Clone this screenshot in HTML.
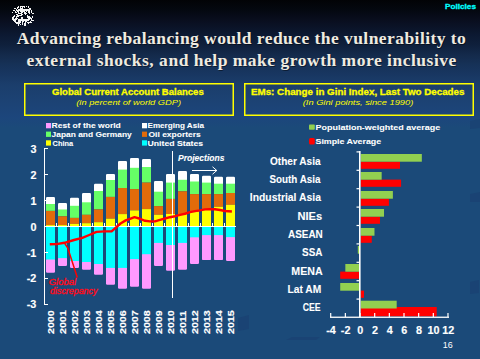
<!DOCTYPE html>
<html><head><meta charset="utf-8"><style>
html,body{margin:0;padding:0}
body{width:480px;height:359px;overflow:hidden;position:relative;
background:linear-gradient(to bottom,rgb(2,3,6) 0px,rgb(4,8,16) 10px,rgb(9,14,30) 20px,rgb(12,25,50) 35px,rgb(15,32,60) 45px,rgb(20,42,75) 55px,rgb(22,50,88) 65px,rgb(24,55,98) 75px,rgb(27,62,108) 85px,rgb(28,66,115) 100px,rgb(28,70,124) 118px,rgb(27,74,121) 128px,rgb(27,74,121) 359px);
font-family:"Liberation Sans",sans-serif}
svg text{font-family:"Liberation Sans",sans-serif}
svg text.ser{font-family:"Liberation Serif",serif;font-size:17.5px;font-weight:bold}
</style></head><body>
<svg width="480" height="359" style="position:absolute;left:0;top:0">
<g fill="#f4f4f4" shape-rendering="crispEdges"><rect x="18" y="6" width="1" height="1"/><rect x="20" y="6" width="5" height="1"/><rect x="26" y="6" width="1" height="1"/><rect x="28" y="6" width="1" height="1"/><rect x="17" y="7" width="2" height="1"/><rect x="20" y="7" width="1" height="1"/><rect x="22" y="7" width="1" height="1"/><rect x="24" y="7" width="1" height="1"/><rect x="28" y="7" width="1" height="1"/><rect x="14" y="8" width="2" height="1"/><rect x="17" y="8" width="1" height="1"/><rect x="20" y="8" width="3" height="1"/><rect x="29" y="8" width="2" height="1"/><rect x="16" y="9" width="1" height="1"/><rect x="18" y="9" width="13" height="1"/><rect x="13" y="10" width="2" height="1"/><rect x="16" y="10" width="14" height="1"/><rect x="31" y="10" width="1" height="1"/><rect x="15" y="11" width="1" height="1"/><rect x="17" y="11" width="2" height="1"/><rect x="20" y="11" width="5" height="1"/><rect x="26" y="11" width="1" height="1"/><rect x="28" y="11" width="2" height="1"/><rect x="31" y="11" width="1" height="1"/><rect x="12" y="12" width="1" height="1"/><rect x="15" y="12" width="2" height="1"/><rect x="18" y="12" width="1" height="1"/><rect x="21" y="12" width="2" height="1"/><rect x="24" y="12" width="2" height="1"/><rect x="28" y="12" width="2" height="1"/><rect x="31" y="12" width="1" height="1"/><rect x="18" y="13" width="4" height="1"/><rect x="24" y="13" width="3" height="1"/><rect x="29" y="13" width="1" height="1"/><rect x="32" y="13" width="2" height="1"/><rect x="16" y="14" width="2" height="1"/><rect x="21" y="14" width="2" height="1"/><rect x="25" y="14" width="1" height="1"/><rect x="14" y="15" width="1" height="1"/><rect x="17" y="15" width="5" height="1"/><rect x="27" y="15" width="1" height="1"/><rect x="13" y="16" width="2" height="1"/><rect x="16" y="16" width="3" height="1"/><rect x="27" y="16" width="3" height="1"/><rect x="32" y="16" width="1" height="1"/><rect x="12" y="17" width="2" height="1"/><rect x="16" y="17" width="1" height="1"/><rect x="21" y="17" width="2" height="1"/><rect x="27" y="17" width="4" height="1"/><rect x="32" y="17" width="1" height="1"/><rect x="12" y="18" width="2" height="1"/><rect x="15" y="18" width="3" height="1"/><rect x="21" y="18" width="2" height="1"/><rect x="28" y="18" width="4" height="1"/><rect x="12" y="19" width="5" height="1"/><rect x="18" y="19" width="12" height="1"/><rect x="31" y="19" width="1" height="1"/><rect x="13" y="20" width="3" height="1"/><rect x="18" y="20" width="11" height="1"/><rect x="31" y="20" width="3" height="1"/><rect x="14" y="21" width="2" height="1"/><rect x="18" y="21" width="3" height="1"/><rect x="22" y="21" width="2" height="1"/><rect x="25" y="21" width="2" height="1"/><rect x="30" y="21" width="1" height="1"/><rect x="15" y="22" width="6" height="1"/><rect x="22" y="22" width="1" height="1"/><rect x="25" y="22" width="1" height="1"/><rect x="27" y="22" width="5" height="1"/><rect x="16" y="23" width="4" height="1"/><rect x="22" y="23" width="1" height="1"/><rect x="24" y="23" width="2" height="1"/><rect x="28" y="23" width="1" height="1"/><rect x="18" y="24" width="1" height="1"/><rect x="20" y="24" width="1" height="1"/><rect x="22" y="24" width="1" height="1"/><rect x="24" y="24" width="2" height="1"/><rect x="18" y="25" width="1" height="1"/><rect x="24" y="25" width="2" height="1"/></g>
<text transform="translate(445,8.9) scale(1.0646,1)" style="font-size:7.7px;font-weight:bold;font-style:normal" fill="#00ffff" stroke="#00ffff" stroke-width="0.3">Policies</text>
<g style="font-family:'Liberation Serif',serif;font-size:17.5px;font-weight:bold">
<text x="17.7" y="44.7" class="ser" style="letter-spacing:0.44px" fill="#000" fill-opacity="0.45">Advancing rebalancing would reduce the vulnerability to</text>
<text x="27.4" y="66.5" class="ser" style="letter-spacing:0.51px" fill="#000" fill-opacity="0.45">external shocks, and help make growth more inclusive</text>
<text x="16.8" y="43.8" class="ser" style="letter-spacing:0.44px" fill="#efebe0">Advancing rebalancing would reduce the vulnerability to</text>
<text x="26.5" y="65.6" class="ser" style="letter-spacing:0.51px" fill="#efebe0">external shocks, and help make growth more inclusive</text>
</g>

<rect x="24.75" y="83.75" width="208.5" height="31.5" fill="none" stroke="#ffff00" stroke-width="1.5"/>
<rect x="244.75" y="83.75" width="228.5" height="31.5" fill="none" stroke="#ffff00" stroke-width="1.5"/>
<text transform="translate(52,94.5) scale(1.0493,1)" style="font-size:9.1px;font-weight:bold;font-style:normal" fill="#ffff00" stroke="#ffff00" stroke-width="0.3">Global Current Account Balances</text>
<text transform="translate(76.25,105.25) scale(1.1545,1)" style="font-size:8.05px;font-weight:normal;font-style:italic" fill="#ffff00">(in percent of world GDP)</text>
<text transform="translate(251,94.75) scale(1.0774,1)" style="font-size:9.1px;font-weight:bold;font-style:normal" fill="#ffff00" stroke="#ffff00" stroke-width="0.3">EMs: Change in Gini Index, Last Two Decades</text>
<text transform="translate(302.7,105.25) scale(1.1575,1)" style="font-size:8.05px;font-weight:normal;font-style:italic" fill="#ffff00">(In Gini points, since 1990)</text>
<g fill="rgb(26,67,116)">
<polygon points="470,121 480,119 480,128 470,129"/>
<polygon points="470,194 480,192 480,202 470,202"/>
<polygon points="470,282 479,280 479,293 470,294"/>
<polygon points="238,318 249,315 249,329 238,331"/>
<polygon points="286,340 292,337 320,337 316,340"/>
</g>
<rect x="46" y="197" width="9" height="9" fill="#ffffff" rx="1.2"/>
<rect x="46" y="204" width="9" height="6.900000000000006" fill="#66ff66"/>
<rect x="46" y="210.9" width="9" height="14.199999999999989" fill="#e26b0a"/>
<rect x="46" y="225.1" width="9" height="0.9000000000000057" fill="#ffff00"/>
<rect x="58" y="203" width="9" height="8.5" fill="#ffffff" rx="1.2"/>
<rect x="58" y="209.5" width="9" height="6.800000000000011" fill="#66ff66"/>
<rect x="58" y="216.3" width="9" height="8.799999999999983" fill="#e26b0a"/>
<rect x="58" y="225.1" width="9" height="0.9000000000000057" fill="#ffff00"/>
<rect x="70" y="197.8" width="9" height="10.0" fill="#ffffff" rx="1.2"/>
<rect x="70" y="205.8" width="9" height="12.099999999999994" fill="#66ff66"/>
<rect x="70" y="217.9" width="9" height="6.0" fill="#e26b0a"/>
<rect x="70" y="223.9" width="9" height="2.0999999999999943" fill="#ffff00"/>
<rect x="82" y="193" width="9" height="11.300000000000011" fill="#ffffff" rx="1.2"/>
<rect x="82" y="202.3" width="9" height="12.5" fill="#66ff66"/>
<rect x="82" y="214.8" width="9" height="8.399999999999977" fill="#e26b0a"/>
<rect x="82" y="223.2" width="9" height="2.8000000000000114" fill="#ffff00"/>
<rect x="94" y="183.8" width="9" height="9.199999999999989" fill="#ffffff" rx="1.2"/>
<rect x="94" y="191" width="9" height="18.400000000000006" fill="#66ff66"/>
<rect x="94" y="209.4" width="9" height="12.799999999999983" fill="#e26b0a"/>
<rect x="94" y="222.2" width="9" height="3.8000000000000114" fill="#ffff00"/>
<rect x="106" y="173.9" width="9" height="8.099999999999994" fill="#ffffff" rx="1.2"/>
<rect x="106" y="180" width="9" height="16.900000000000006" fill="#66ff66"/>
<rect x="106" y="196.9" width="9" height="21.799999999999983" fill="#e26b0a"/>
<rect x="106" y="218.7" width="9" height="7.300000000000011" fill="#ffff00"/>
<rect x="118" y="160.9" width="9" height="10.699999999999989" fill="#ffffff" rx="1.2"/>
<rect x="118" y="169.6" width="9" height="18.400000000000006" fill="#66ff66"/>
<rect x="118" y="188" width="9" height="26.099999999999994" fill="#e26b0a"/>
<rect x="118" y="214.1" width="9" height="11.900000000000006" fill="#ffff00"/>
<rect x="130" y="158" width="9" height="11.800000000000011" fill="#ffffff" rx="1.2"/>
<rect x="130" y="167.8" width="9" height="21.299999999999983" fill="#66ff66"/>
<rect x="130" y="189.1" width="9" height="21.30000000000001" fill="#e26b0a"/>
<rect x="130" y="210.4" width="9" height="15.599999999999994" fill="#ffff00"/>
<rect x="142" y="159.1" width="9" height="9.900000000000006" fill="#ffffff" rx="1.2"/>
<rect x="142" y="167" width="9" height="15.599999999999994" fill="#66ff66"/>
<rect x="142" y="182.6" width="9" height="26.5" fill="#e26b0a"/>
<rect x="142" y="209.1" width="9" height="16.900000000000006" fill="#ffff00"/>
<rect x="154" y="181.1" width="9" height="12.599999999999994" fill="#ffffff" rx="1.2"/>
<rect x="154" y="191.7" width="9" height="14.400000000000006" fill="#66ff66"/>
<rect x="154" y="206.1" width="9" height="8.700000000000017" fill="#e26b0a"/>
<rect x="154" y="214.8" width="9" height="11.199999999999989" fill="#ffff00"/>
<rect x="166" y="173.9" width="9" height="10.699999999999989" fill="#ffffff" rx="1.2"/>
<rect x="166" y="182.6" width="9" height="16.30000000000001" fill="#66ff66"/>
<rect x="166" y="198.9" width="9" height="15.099999999999994" fill="#e26b0a"/>
<rect x="166" y="214" width="9" height="12" fill="#ffff00"/>
<rect x="178" y="171.1" width="9" height="10.700000000000017" fill="#ffffff" rx="1.2"/>
<rect x="178" y="179.8" width="9" height="11.5" fill="#66ff66"/>
<rect x="178" y="191.3" width="9" height="22.69999999999999" fill="#e26b0a"/>
<rect x="178" y="214" width="9" height="12" fill="#ffff00"/>
<rect x="190" y="173.9" width="9" height="9.599999999999994" fill="#ffffff" rx="1.2"/>
<rect x="190" y="181.5" width="9" height="12.599999999999994" fill="#66ff66"/>
<rect x="190" y="194.1" width="9" height="17.400000000000006" fill="#e26b0a"/>
<rect x="190" y="211.5" width="9" height="14.5" fill="#ffff00"/>
<rect x="202" y="175.7" width="9" height="8.900000000000006" fill="#ffffff" rx="1.2"/>
<rect x="202" y="182.6" width="9" height="11.5" fill="#66ff66"/>
<rect x="202" y="194.1" width="9" height="15.400000000000006" fill="#e26b0a"/>
<rect x="202" y="209.5" width="9" height="16.5" fill="#ffff00"/>
<rect x="214" y="176.7" width="9" height="9.0" fill="#ffffff" rx="1.2"/>
<rect x="214" y="183.7" width="9" height="10.400000000000006" fill="#66ff66"/>
<rect x="214" y="194.1" width="9" height="12.700000000000017" fill="#e26b0a"/>
<rect x="214" y="206.8" width="9" height="19.19999999999999" fill="#ffff00"/>
<rect x="226" y="176.7" width="9" height="9.0" fill="#ffffff" rx="1.2"/>
<rect x="226" y="183.7" width="9" height="9.300000000000011" fill="#66ff66"/>
<rect x="226" y="193" width="9" height="11.800000000000011" fill="#e26b0a"/>
<rect x="226" y="204.8" width="9" height="21.19999999999999" fill="#ffff00"/>
<rect x="46" y="258.5" width="9" height="14.199999999999989" fill="#ff99ff" rx="1.2"/>
<rect x="46" y="227" width="9" height="32.5" fill="#00ffff"/>
<rect x="58" y="257.1" width="9" height="8.799999999999955" fill="#ff99ff" rx="1.2"/>
<rect x="58" y="227" width="9" height="31.100000000000023" fill="#00ffff"/>
<rect x="70" y="260" width="9" height="7.899999999999977" fill="#ff99ff" rx="1.2"/>
<rect x="70" y="227" width="9" height="34" fill="#00ffff"/>
<rect x="82" y="261" width="9" height="8.800000000000011" fill="#ff99ff" rx="1.2"/>
<rect x="82" y="227" width="9" height="35" fill="#00ffff"/>
<rect x="94" y="263" width="9" height="11.699999999999989" fill="#ff99ff" rx="1.2"/>
<rect x="94" y="227" width="9" height="37" fill="#00ffff"/>
<rect x="106" y="266.9" width="9" height="17.900000000000034" fill="#ff99ff" rx="1.2"/>
<rect x="106" y="227" width="9" height="40.89999999999998" fill="#00ffff"/>
<rect x="118" y="266.9" width="9" height="21.80000000000001" fill="#ff99ff" rx="1.2"/>
<rect x="118" y="227" width="9" height="40.89999999999998" fill="#00ffff"/>
<rect x="130" y="258.1" width="9" height="28.69999999999999" fill="#ff99ff" rx="1.2"/>
<rect x="130" y="227" width="9" height="32.10000000000002" fill="#00ffff"/>
<rect x="142" y="253.2" width="9" height="35.5" fill="#ff99ff" rx="1.2"/>
<rect x="142" y="227" width="9" height="27.19999999999999" fill="#00ffff"/>
<rect x="154" y="241.9" width="9" height="23.99999999999997" fill="#ff99ff" rx="1.2"/>
<rect x="154" y="227" width="9" height="15.900000000000006" fill="#00ffff"/>
<rect x="166" y="244" width="9" height="26.80000000000001" fill="#ff99ff" rx="1.2"/>
<rect x="166" y="227" width="9" height="18" fill="#00ffff"/>
<rect x="178" y="241.9" width="9" height="27.900000000000006" fill="#ff99ff" rx="1.2"/>
<rect x="178" y="227" width="9" height="15.900000000000006" fill="#00ffff"/>
<rect x="190" y="236.3" width="9" height="27.69999999999999" fill="#ff99ff" rx="1.2"/>
<rect x="190" y="227" width="9" height="10.300000000000011" fill="#00ffff"/>
<rect x="202" y="234.1" width="9" height="26.00000000000003" fill="#ff99ff" rx="1.2"/>
<rect x="202" y="227" width="9" height="8.099999999999994" fill="#00ffff"/>
<rect x="214" y="234.1" width="9" height="26.00000000000003" fill="#ff99ff" rx="1.2"/>
<rect x="214" y="227" width="9" height="8.099999999999994" fill="#00ffff"/>
<rect x="226" y="236.1" width="9" height="24.900000000000006" fill="#ff99ff" rx="1.2"/>
<rect x="226" y="227" width="9" height="10.099999999999994" fill="#00ffff"/>
<rect x="44" y="226" width="192" height="1" fill="#fff"/>
<rect x="56" y="223" width="1" height="3" fill="#fff"/>
<rect x="68" y="223" width="1" height="3" fill="#fff"/>
<rect x="80" y="223" width="1" height="3" fill="#fff"/>
<rect x="92" y="223" width="1" height="3" fill="#fff"/>
<rect x="104" y="223" width="1" height="3" fill="#fff"/>
<rect x="116" y="223" width="1" height="3" fill="#fff"/>
<rect x="128" y="223" width="1" height="3" fill="#fff"/>
<rect x="140" y="223" width="1" height="3" fill="#fff"/>
<rect x="152" y="223" width="1" height="3" fill="#fff"/>
<rect x="164" y="223" width="1" height="3" fill="#fff"/>
<rect x="176" y="223" width="1" height="3" fill="#fff"/>
<rect x="188" y="223" width="1" height="3" fill="#fff"/>
<rect x="200" y="223" width="1" height="3" fill="#fff"/>
<rect x="212" y="223" width="1" height="3" fill="#fff"/>
<rect x="224" y="223" width="1" height="3" fill="#fff"/>
<rect x="44" y="148" width="1" height="157" fill="#fff"/>
<rect x="44" y="304" width="4" height="1" fill="#fff"/>
<rect x="44" y="278" width="4" height="1" fill="#fff"/>
<rect x="44" y="252" width="4" height="1" fill="#fff"/>
<rect x="44" y="200" width="4" height="1" fill="#fff"/>
<rect x="44" y="174" width="4" height="1" fill="#fff"/>
<rect x="44" y="148" width="4" height="1" fill="#fff"/>
<text transform="translate(26.70,308.20) scale(1.07,1)" style="font-size:10.1px;font-weight:bold" fill="#fff" stroke="#fff" stroke-width="0.15">-3</text>
<text transform="translate(26.70,282.40) scale(1.07,1)" style="font-size:10.1px;font-weight:bold" fill="#fff" stroke="#fff" stroke-width="0.15">-2</text>
<text transform="translate(26.70,256.60) scale(1.07,1)" style="font-size:10.1px;font-weight:bold" fill="#fff" stroke="#fff" stroke-width="0.15">-1</text>
<text transform="translate(30.50,230.80) scale(1.07,1)" style="font-size:10.1px;font-weight:bold" fill="#fff" stroke="#fff" stroke-width="0.15">0</text>
<text transform="translate(30.50,205.00) scale(1.07,1)" style="font-size:10.1px;font-weight:bold" fill="#fff" stroke="#fff" stroke-width="0.15">1</text>
<text transform="translate(30.50,179.20) scale(1.07,1)" style="font-size:10.1px;font-weight:bold" fill="#fff" stroke="#fff" stroke-width="0.15">2</text>
<text transform="translate(30.50,153.40) scale(1.07,1)" style="font-size:10.1px;font-weight:bold" fill="#fff" stroke="#fff" stroke-width="0.15">3</text>
<rect x="172" y="151" width="1" height="147" fill="#fff"/>
<polyline points="49.8,244.3 56.5,244.1 64.5,242.8 74,240 82.3,237.8 89.2,235 96.5,231.9 104.8,231.4 111.6,231.4 115.25,228.2 120.5,223.5 125.7,220.4 130,218.8 134.5,217.2 140,218.75 145,220.8 150,221.4 155,221.4 160,219.8 165,218.5 170,217.2 175,216.2 180,214.8 185,213.75 190,212.2 195,211.1 200,210.4 205,209.4 210,209.2 215,209.3 220,210 225,211 231.9,211.5" fill="none" stroke="#ff0000" stroke-width="2.4" stroke-linejoin="round"/>
<polyline points="64.5,243 67.8,248 77.3,277.6" fill="none" stroke="#ff0000" stroke-width="1.5"/>
<text transform="translate(48.8,284.9) scale(1.1225,1)" style="font-size:8.4px;font-weight:normal;font-style:italic" fill="#ff0a1a" stroke="#ff0a1a" stroke-width="0.35">Global</text>
<text transform="translate(50.1,294) scale(1.0557,1)" style="font-size:8.4px;font-weight:normal;font-style:italic" fill="#ff0a1a" stroke="#ff0a1a" stroke-width="0.35">discrepancy</text>
<text transform="translate(178,160.8) scale(1.0179,1)" style="font-size:8.4px;font-weight:bold;font-style:italic" fill="#fff" stroke="#fff" stroke-width="0.08">Projections</text>
<rect x="192" y="170" width="25" height="1" fill="#fff"/>
<polyline points="212.5,166.8 216.8,170.5 212.5,174.2" fill="none" stroke="#fff" stroke-width="1"/>
<text transform="translate(54.10,334) rotate(-90) scale(1.134,1)" style="font-size:9.4px;font-weight:bold" fill="#fff" stroke="#fff" stroke-width="0.15">2000</text>
<text transform="translate(66.10,334) rotate(-90) scale(1.134,1)" style="font-size:9.4px;font-weight:bold" fill="#fff" stroke="#fff" stroke-width="0.15">2001</text>
<text transform="translate(78.10,334) rotate(-90) scale(1.134,1)" style="font-size:9.4px;font-weight:bold" fill="#fff" stroke="#fff" stroke-width="0.15">2002</text>
<text transform="translate(90.10,334) rotate(-90) scale(1.134,1)" style="font-size:9.4px;font-weight:bold" fill="#fff" stroke="#fff" stroke-width="0.15">2003</text>
<text transform="translate(102.10,334) rotate(-90) scale(1.134,1)" style="font-size:9.4px;font-weight:bold" fill="#fff" stroke="#fff" stroke-width="0.15">2004</text>
<text transform="translate(114.10,334) rotate(-90) scale(1.134,1)" style="font-size:9.4px;font-weight:bold" fill="#fff" stroke="#fff" stroke-width="0.15">2005</text>
<text transform="translate(126.10,334) rotate(-90) scale(1.134,1)" style="font-size:9.4px;font-weight:bold" fill="#fff" stroke="#fff" stroke-width="0.15">2006</text>
<text transform="translate(138.10,334) rotate(-90) scale(1.134,1)" style="font-size:9.4px;font-weight:bold" fill="#fff" stroke="#fff" stroke-width="0.15">2007</text>
<text transform="translate(150.10,334) rotate(-90) scale(1.134,1)" style="font-size:9.4px;font-weight:bold" fill="#fff" stroke="#fff" stroke-width="0.15">2008</text>
<text transform="translate(162.10,334) rotate(-90) scale(1.134,1)" style="font-size:9.4px;font-weight:bold" fill="#fff" stroke="#fff" stroke-width="0.15">2009</text>
<text transform="translate(174.10,334) rotate(-90) scale(1.134,1)" style="font-size:9.4px;font-weight:bold" fill="#fff" stroke="#fff" stroke-width="0.15">2010</text>
<text transform="translate(186.10,334) rotate(-90) scale(1.134,1)" style="font-size:9.4px;font-weight:bold" fill="#fff" stroke="#fff" stroke-width="0.15">2011</text>
<text transform="translate(198.10,334) rotate(-90) scale(1.134,1)" style="font-size:9.4px;font-weight:bold" fill="#fff" stroke="#fff" stroke-width="0.15">2012</text>
<text transform="translate(210.10,334) rotate(-90) scale(1.134,1)" style="font-size:9.4px;font-weight:bold" fill="#fff" stroke="#fff" stroke-width="0.15">2013</text>
<text transform="translate(222.10,334) rotate(-90) scale(1.134,1)" style="font-size:9.4px;font-weight:bold" fill="#fff" stroke="#fff" stroke-width="0.15">2014</text>
<text transform="translate(234.10,334) rotate(-90) scale(1.134,1)" style="font-size:9.4px;font-weight:bold" fill="#fff" stroke="#fff" stroke-width="0.15">2015</text>
<rect x="46" y="123" width="5" height="5.3" fill="#ff99ff"/>
<rect x="46" y="131.6" width="5" height="5.3" fill="#66ff66"/>
<rect x="46" y="140.3" width="5" height="5.3" fill="#ffff00"/>
<rect x="142" y="123" width="5" height="5.3" fill="#ffffff"/>
<rect x="142" y="131.6" width="5" height="5.3" fill="#e26b0a"/>
<rect x="142" y="140.3" width="5" height="5.3" fill="#00ffff"/>
<text transform="translate(51.6,127.9) scale(1.0684,1)" style="font-size:8.0px;font-weight:bold;font-style:normal" fill="#fff" stroke="#fff" stroke-width="0.08">Rest of the world</text>
<text transform="translate(51.6,136.75) scale(1.0493,1)" style="font-size:8.0px;font-weight:bold;font-style:normal" fill="#fff" stroke="#fff" stroke-width="0.08">Japan and Germany</text>
<text transform="translate(52.6,145.6) scale(0.9188,1)" style="font-size:8.0px;font-weight:bold;font-style:normal" fill="#fff" stroke="#fff" stroke-width="0.08">China</text>
<text transform="translate(147.5,128.2) scale(1.0131,1)" style="font-size:8.0px;font-weight:bold;font-style:normal" fill="#fff" stroke="#fff" stroke-width="0.08">Emerging Asia</text>
<text transform="translate(148.5,137) scale(1.0612,1)" style="font-size:8.0px;font-weight:bold;font-style:normal" fill="#fff" stroke="#fff" stroke-width="0.08">Oil exporters</text>
<text transform="translate(147.5,145.7) scale(1.0901,1)" style="font-size:8.0px;font-weight:bold;font-style:normal" fill="#fff" stroke="#fff" stroke-width="0.08">United States</text>
<rect x="360.7" y="161.60" width="39.29" height="7.2" fill="#ff0000"/>
<rect x="360.7" y="154.00" width="61.13" height="7.7" fill="#92d050"/>
<text transform="translate(270,165.2) scale(0.951,1)" style="font-size:10.6px;font-weight:bold;font-style:normal" fill="#fff" stroke="#fff" stroke-width="0.08">Other Asia</text>
<rect x="360.7" y="179.60" width="40.39" height="7.2" fill="#ff0000"/>
<rect x="360.7" y="172.00" width="20.96" height="7.7" fill="#92d050"/>
<text transform="translate(269.4,183.1) scale(0.93,1)" style="font-size:10.6px;font-weight:bold;font-style:normal" fill="#fff" stroke="#fff" stroke-width="0.08">South Asia</text>
<rect x="360.7" y="198.60" width="28.22" height="7.2" fill="#ff0000"/>
<rect x="360.7" y="191.00" width="32.18" height="7.7" fill="#92d050"/>
<text transform="translate(249.8,201) scale(0.9792,1)" style="font-size:10.6px;font-weight:bold;font-style:normal" fill="#fff" stroke="#fff" stroke-width="0.08">Industrial Asia</text>
<rect x="360.7" y="216.60" width="19.28" height="7.2" fill="#ff0000"/>
<rect x="360.7" y="209.00" width="23.31" height="7.7" fill="#92d050"/>
<text transform="translate(297.5,220.2) scale(1.0455,1)" style="font-size:10.6px;font-weight:bold;font-style:normal" fill="#fff" stroke="#fff" stroke-width="0.08">NIEs</text>
<rect x="360.7" y="235.60" width="11.07" height="7.2" fill="#ff0000"/>
<rect x="360.7" y="228.00" width="13.78" height="7.7" fill="#92d050"/>
<text transform="translate(288,238.1) scale(0.9384,1)" style="font-size:10.6px;font-weight:bold;font-style:normal" fill="#fff" stroke="#fff" stroke-width="0.08">ASEAN</text>
<rect x="357.80" y="246.00" width="2.20" height="7.7" fill="#92d050"/>
<text transform="translate(302,256.25) scale(0.9382,1)" style="font-size:10.6px;font-weight:bold;font-style:normal" fill="#fff" stroke="#fff" stroke-width="0.08">SSA</text>
<rect x="340.21" y="271.60" width="19.79" height="7.2" fill="#ff0000"/>
<rect x="345.34" y="264.00" width="14.66" height="7.7" fill="#92d050"/>
<text transform="translate(291.3,275.2) scale(1.0038,1)" style="font-size:10.6px;font-weight:bold;font-style:normal" fill="#fff" stroke="#fff" stroke-width="0.08">MENA</text>
<rect x="360.7" y="290.60" width="3.30" height="7.2" fill="#ff0000"/>
<rect x="340.21" y="283.00" width="19.79" height="7.7" fill="#92d050"/>
<text transform="translate(287.5,293.1) scale(0.967,1)" style="font-size:10.6px;font-weight:bold;font-style:normal" fill="#fff" stroke="#fff" stroke-width="0.08">Lat AM</text>
<rect x="360.7" y="307.00" width="76.01" height="9.3" fill="#ff0000"/>
<rect x="360.7" y="300.70" width="35.99" height="7.8" fill="#92d050"/>
<text transform="translate(302.7,311.25) scale(0.8256,1)" style="font-size:10.6px;font-weight:bold;font-style:normal" fill="#fff" stroke="#fff" stroke-width="0.08">CEE</text>
<rect x="359" y="151" width="1.6" height="166.5" fill="#fff"/>
<rect x="356.5" y="151.30" width="3" height="1.2" fill="#fff"/>
<rect x="356.5" y="169.70" width="3" height="1.2" fill="#fff"/>
<rect x="356.5" y="188.10" width="3" height="1.2" fill="#fff"/>
<rect x="356.5" y="206.50" width="3" height="1.2" fill="#fff"/>
<rect x="356.5" y="224.90" width="3" height="1.2" fill="#fff"/>
<rect x="356.5" y="243.30" width="3" height="1.2" fill="#fff"/>
<rect x="356.5" y="261.70" width="3" height="1.2" fill="#fff"/>
<rect x="356.5" y="280.10" width="3" height="1.2" fill="#fff"/>
<rect x="356.5" y="298.50" width="3" height="1.2" fill="#fff"/>
<rect x="330" y="316.6" width="119" height="1.3" fill="#fff"/>
<rect x="330.10" y="313" width="1.2" height="4" fill="#fff"/>
<text transform="translate(331.00,333.8) scale(1.07,1)" text-anchor="middle" style="font-size:10.1px;font-weight:bold" fill="#fff" stroke="#fff" stroke-width="0.15">-4</text>
<rect x="344.76" y="313" width="1.2" height="4" fill="#fff"/>
<text transform="translate(345.66,333.8) scale(1.07,1)" text-anchor="middle" style="font-size:10.1px;font-weight:bold" fill="#fff" stroke="#fff" stroke-width="0.15">-2</text>
<rect x="359.42" y="313" width="1.2" height="4" fill="#fff"/>
<text transform="translate(360.32,333.8) scale(1.07,1)" text-anchor="middle" style="font-size:10.1px;font-weight:bold" fill="#fff" stroke="#fff" stroke-width="0.15">0</text>
<rect x="374.08" y="313" width="1.2" height="4" fill="#fff"/>
<text transform="translate(374.98,333.8) scale(1.07,1)" text-anchor="middle" style="font-size:10.1px;font-weight:bold" fill="#fff" stroke="#fff" stroke-width="0.15">2</text>
<rect x="388.74" y="313" width="1.2" height="4" fill="#fff"/>
<text transform="translate(389.64,333.8) scale(1.07,1)" text-anchor="middle" style="font-size:10.1px;font-weight:bold" fill="#fff" stroke="#fff" stroke-width="0.15">4</text>
<rect x="403.40" y="313" width="1.2" height="4" fill="#fff"/>
<text transform="translate(404.30,333.8) scale(1.07,1)" text-anchor="middle" style="font-size:10.1px;font-weight:bold" fill="#fff" stroke="#fff" stroke-width="0.15">6</text>
<rect x="418.06" y="313" width="1.2" height="4" fill="#fff"/>
<text transform="translate(418.96,333.8) scale(1.07,1)" text-anchor="middle" style="font-size:10.1px;font-weight:bold" fill="#fff" stroke="#fff" stroke-width="0.15">8</text>
<rect x="432.72" y="313" width="1.2" height="4" fill="#fff"/>
<text transform="translate(433.62,333.8) scale(1.07,1)" text-anchor="middle" style="font-size:10.1px;font-weight:bold" fill="#fff" stroke="#fff" stroke-width="0.15">10</text>
<rect x="447.38" y="313" width="1.2" height="4" fill="#fff"/>
<text transform="translate(448.28,333.8) scale(1.07,1)" text-anchor="middle" style="font-size:10.1px;font-weight:bold" fill="#fff" stroke="#fff" stroke-width="0.15">12</text>
<rect x="309" y="124.4" width="5.8" height="5.4" fill="#92d050" rx="0.8"/>
<text transform="translate(315.5,129.75) scale(1.109,1)" style="font-size:8.1px;font-weight:bold;font-style:normal" fill="#fff" stroke="#fff" stroke-width="0.08">Population-weighted average</text>
<rect x="309" y="138" width="5.8" height="6.4" fill="#ff0000" rx="1.5"/>
<text transform="translate(315.5,143.75) scale(1.0933,1)" style="font-size:8.1px;font-weight:bold;font-style:normal" fill="#fff" stroke="#fff" stroke-width="0.08">Simple Average</text>
<text transform="translate(442.75,347.9) scale(1.0662,1)" style="font-size:8.4px;font-weight:normal;font-style:normal" fill="#fff">16</text>
</svg>
</body></html>
